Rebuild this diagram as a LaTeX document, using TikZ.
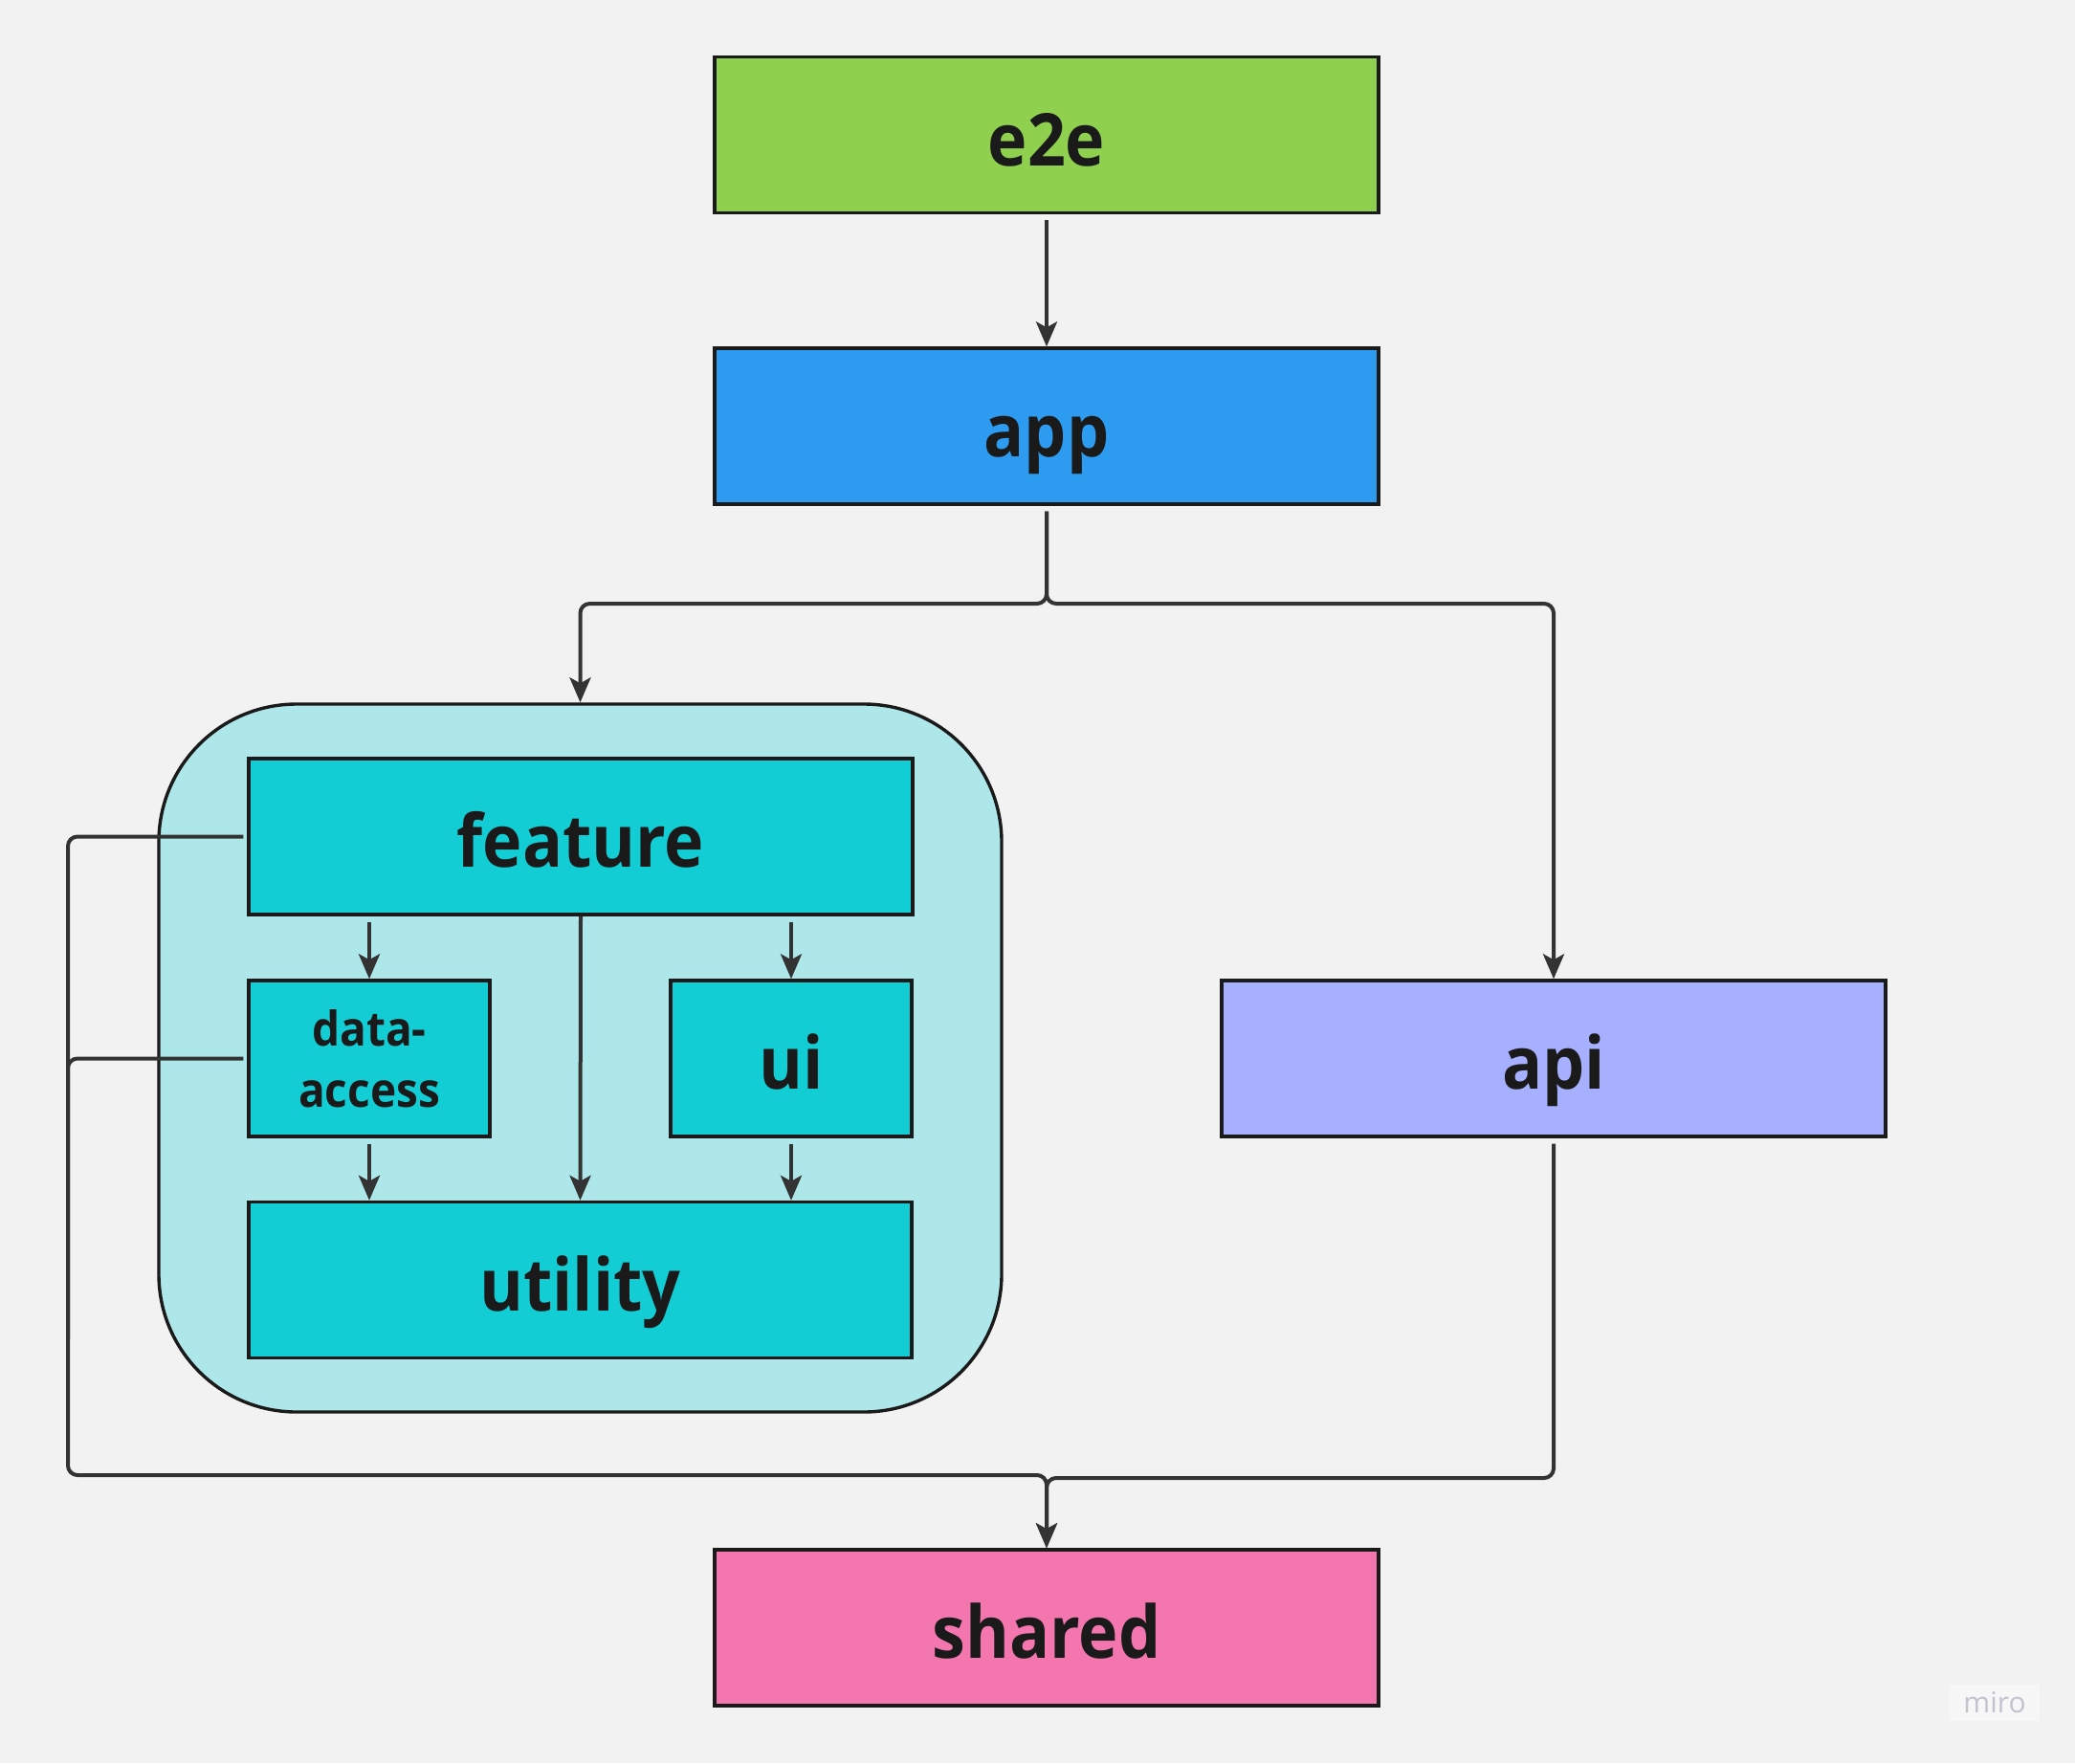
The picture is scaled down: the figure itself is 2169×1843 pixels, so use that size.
\documentclass[tikz,border=0pt]{standalone}
\usepackage{fontspec}
\newfontfamily\lbl[FakeStretch=0.92]{Open Sans}
\newfontfamily\wm{Open Sans}
\usetikzlibrary{arrows.meta,calc}
\definecolor{bg}{HTML}{F2F2F2}
\definecolor{cE}{HTML}{8FD14F}
\definecolor{cApp}{HTML}{2D9BF0}
\definecolor{cGrp}{HTML}{AEE7EA}
\definecolor{cCyan}{HTML}{12CDD4}
\definecolor{cApi}{HTML}{A7B0FF}
\definecolor{cShared}{HTML}{F476AF}
\definecolor{lineC}{HTML}{333333}
\definecolor{bordC}{HTML}{1A1A1A}
\definecolor{txtC}{HTML}{1A1A1A}
\definecolor{wmC}{HTML}{C3C3CF}
\tikzset{
  box/.style={draw=bordC, line width=1.7pt, rectangle, inner sep=0pt,
    minimum width=347pt, minimum height=81.5pt, text=txtC,
    text height=32pt, text depth=0pt,
    font=\lbl\bfseries\fontsize{38}{40}\selectfont},
  smallbox/.style={box, minimum width=126pt},
  conn/.style={draw=lineC, line width=2pt, rounded corners=5pt},
  arr/.style={conn, -{Stealth[length=13pt,width=11pt,inset=3pt]}},
}
\begin{document}
\begin{tikzpicture}[x=0.5pt,y=-0.5pt]
\fill[bg] (0,0) rectangle (2169,1843);
\useasboundingbox (0,0) rectangle (2169,1843);

\node[draw=bordC, line width=1.7pt, fill=cGrp, rounded corners=72pt,
  minimum width=440.5pt, minimum height=370pt, inner sep=0pt] (group) at (606.5,1106) {};

\node[box, fill=cE] (e2e) at (1094,141) {e2e};
\node[box, fill=cApp] (app) at (1094,445.5) {app};
\node[box, fill=cCyan] (feature) at (607,874.5) {feature};
\node[smallbox, fill=cCyan] (da) at (386,1106.5) {};
\node[font=\lbl\bfseries\fontsize{25}{32}\selectfont, text=txtC, align=center, inner sep=0pt]
  (daText) at (386,1107) {data-\\access};
\node[smallbox, fill=cCyan] (ui) at (827,1106.5) {ui};
\node[box, fill=cCyan, minimum width=346.5pt] (utility) at (606.5,1338) {utility};
\node[box, fill=cApi] (api) at (1624,1106.5) {api};
\node[box, fill=cShared] (shared) at (1094,1701.5) {shared};

\node[fill=bg!60!white, text=wmC, font=\wm\fontsize{15}{16}\selectfont,
  inner xsep=7pt, inner ysep=4pt] (miro) at (2085,1780) {miro};

\coordinate (split) at (1094,631);
\coordinate (busL) at (71,1542);
\coordinate (busMid) at (71,1400);
\coordinate (mergeR) at (1094,1545);

\draw[arr, shorten <=3pt] (e2e) -- (app);
\draw[arr, shorten <=3pt] (app.south) -- (split) -| (group.north);
\draw[arr, shorten <=3pt] (app.south) -- (split) -| (api.north);

\draw[arr, shorten <=3pt] (da.north |- feature.south) -- (da.north);
\draw[arr, shorten <=3pt] (ui.north |- feature.south) -- (ui.north);
\draw[arr] (feature.south) -- (utility.north);
\draw[arr, shorten <=3pt] (da.south) -- (da.south |- utility.north);
\draw[arr, shorten <=3pt] (ui.south) -- (ui.south |- utility.north);

\draw[conn, shorten <=2pt] (feature.west) -| (busMid);
\draw[arr, shorten <=2pt] (da.west) -| (busL) -| (shared.north);
\draw[arr, shorten <=3pt] (api.south) |- (mergeR) -- (shared.north);
\end{tikzpicture}
\end{document}
